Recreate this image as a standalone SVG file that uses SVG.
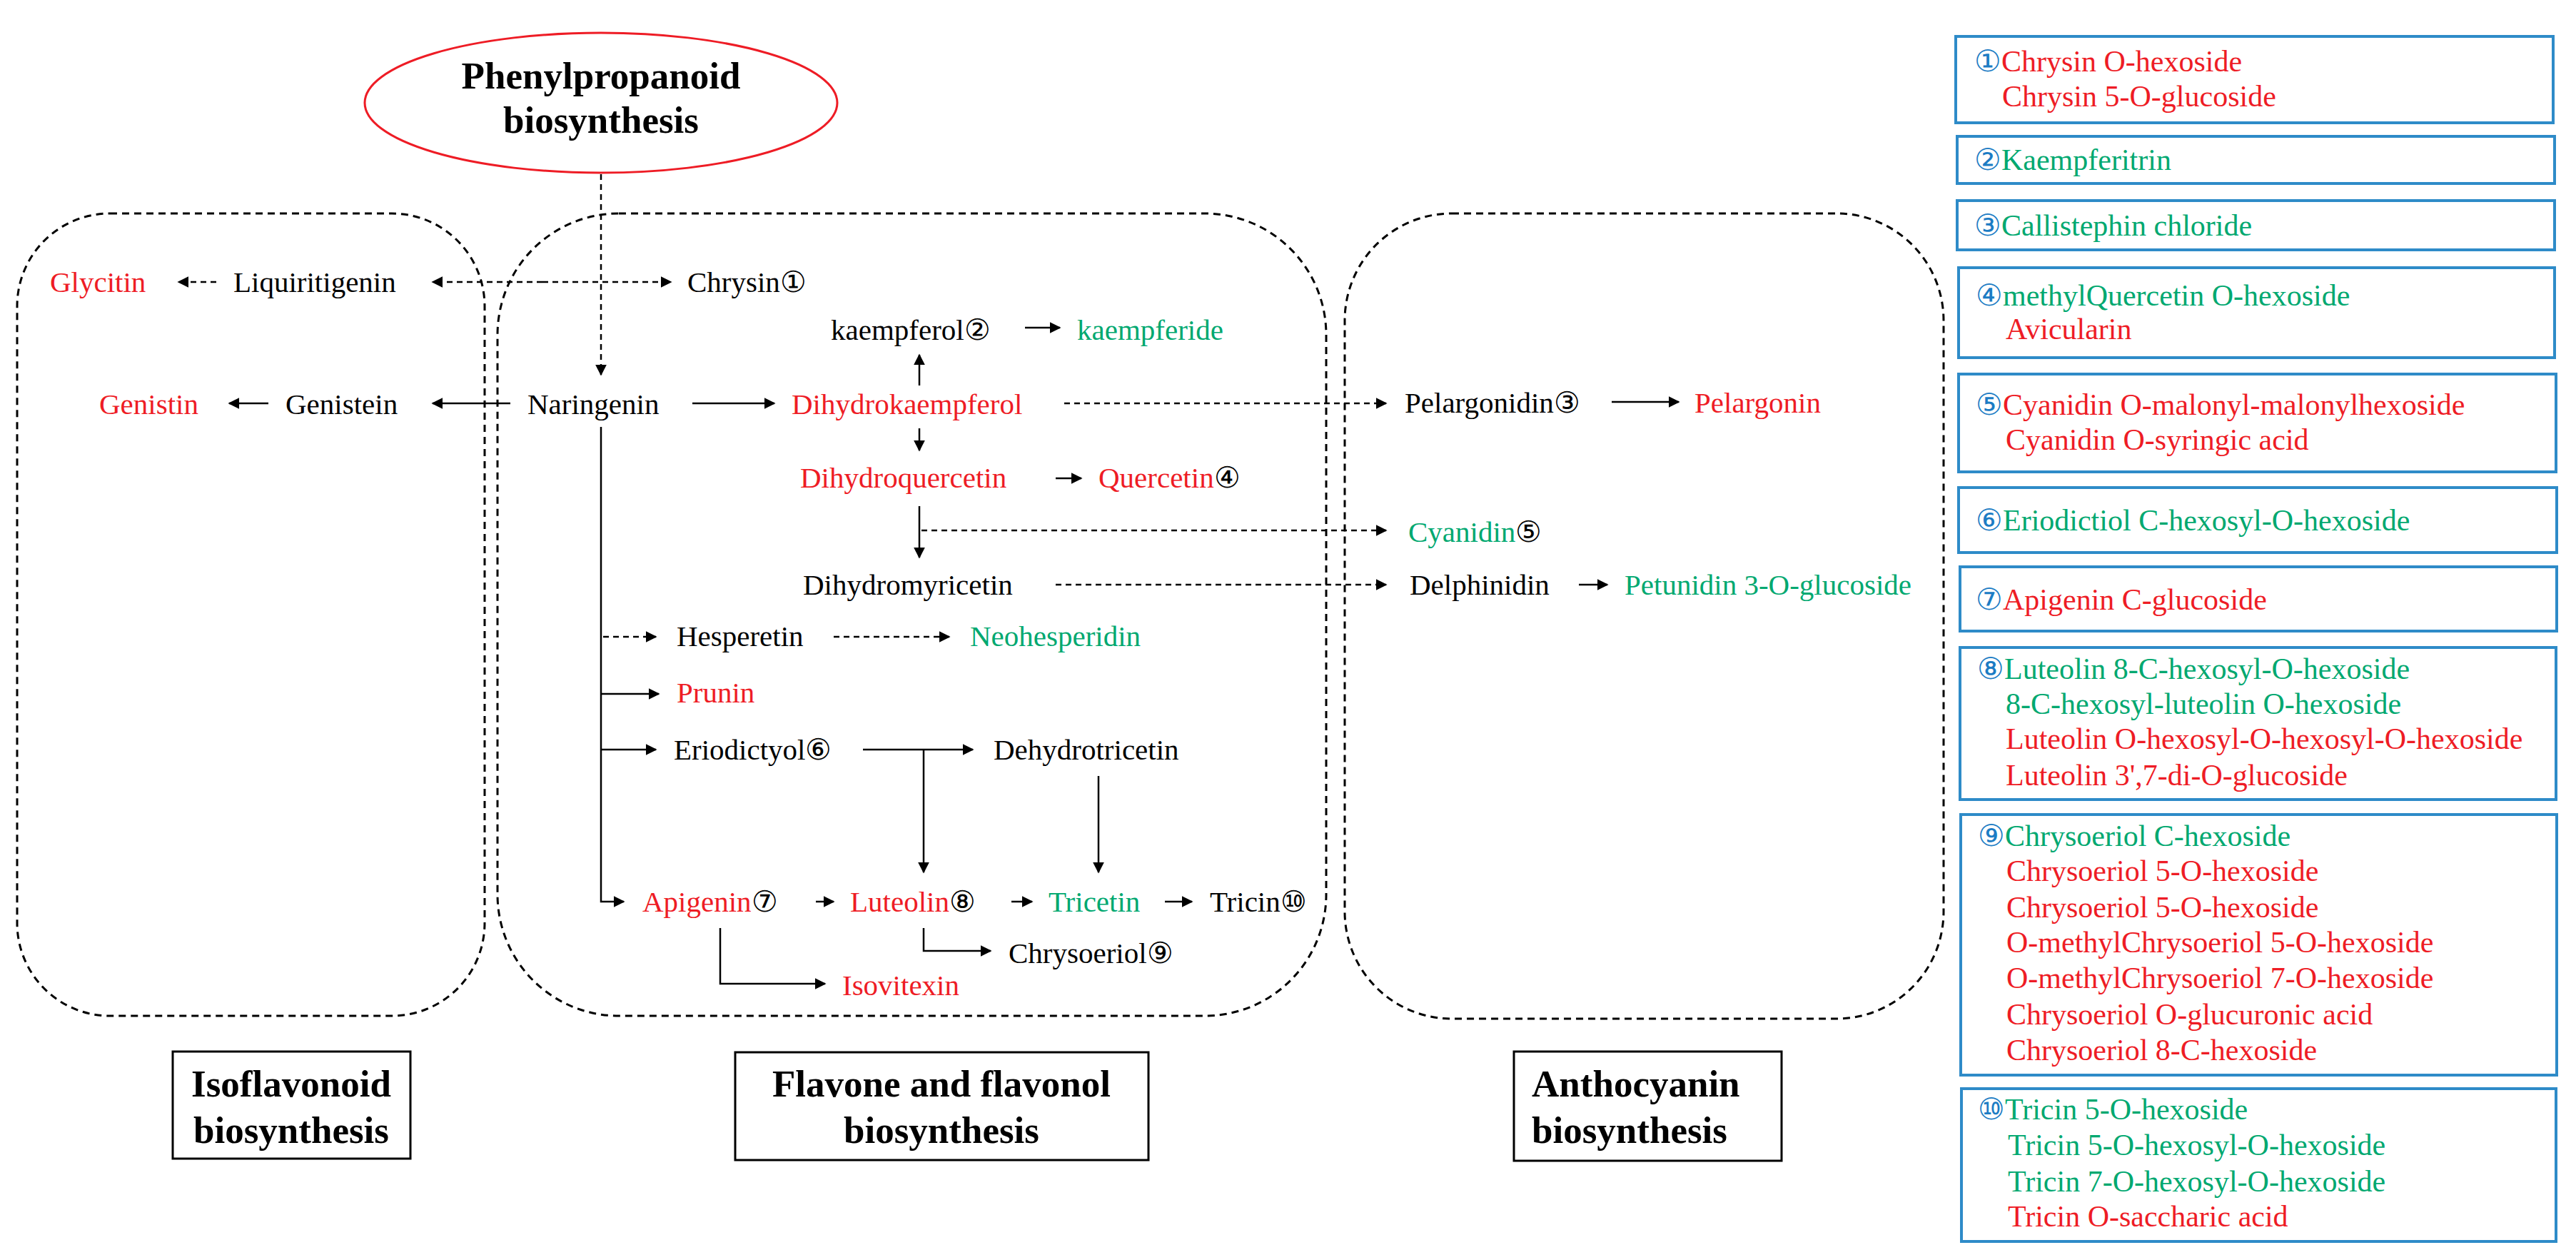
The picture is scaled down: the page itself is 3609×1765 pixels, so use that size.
<svg xmlns="http://www.w3.org/2000/svg" width="3609" height="1765" viewBox="0 0 3609 1765">
<defs>
<marker id="ah" viewBox="0 0 10 10" refX="9" refY="5" markerWidth="16" markerHeight="16" markerUnits="userSpaceOnUse" orient="auto"><path d="M0,0 L10,5 L0,10 z" fill="#000"/></marker>
<style>
text{font-family:"Liberation Serif","DejaVu Serif",serif;font-size:41px;fill:#000}
.r{fill:#ee1c25}.g{fill:#00a870}.b{fill:#1c7cc4}
.t{font-weight:bold;font-size:53px}
.lg{font-size:42px}
.ln{fill:none;stroke:#000;stroke-width:2.5}
.d{stroke-dasharray:8 6}
.reg{fill:none;stroke:#000;stroke-width:3;stroke-dasharray:10 7}
.lb{fill:#fff;stroke:#000;stroke-width:3}
.bx{fill:#fff;stroke:#2e8bc8;stroke-width:4}
</style>
</defs>
<rect width="3609" height="1765" fill="#fff"/>
<g id="regions">
<rect class="reg" x="24" y="299" width="655" height="1124" rx="130"/>
<rect class="reg" x="697" y="299" width="1161" height="1124" rx="170"/>
<rect class="reg" x="1884" y="299" width="839" height="1128" rx="150"/>
</g>
<g id="phenylpropanoid">
<ellipse cx="842" cy="144" rx="331" ry="98" fill="#fff" stroke="#ee1c25" stroke-width="3"/>
<text class="t" x="842" y="124" text-anchor="middle">Phenylpropanoid</text>
<text class="t" x="842" y="186" text-anchor="middle">biosynthesis</text>
</g>
<g id="labels">
<rect class="lb" x="242" y="1473" width="333" height="150"/>
<text class="t" x="408" y="1536" text-anchor="middle">Isoflavonoid</text>
<text class="t" x="408" y="1601" text-anchor="middle">biosynthesis</text>
<rect class="lb" x="1030" y="1474" width="579" height="151"/>
<text class="t" x="1319" y="1536" text-anchor="middle">Flavone and flavonol</text>
<text class="t" x="1319" y="1601" text-anchor="middle">biosynthesis</text>
<rect class="lb" x="2121" y="1473" width="375" height="153"/>
<text class="t" x="2146" y="1536">Anthocyanin</text>
<text class="t" x="2146" y="1601">biosynthesis</text>
</g>
<g id="connectors">
<path class="ln d" d="M842,244 V525" marker-end="url(#ah)"/>
<path class="ln d" d="M303,395 H250" marker-end="url(#ah)"/>
<path class="ln d" d="M760,395 H606" marker-end="url(#ah)"/>
<path class="ln d" d="M760,395 H940" marker-end="url(#ah)"/>
<path class="ln" d="M1436,459 H1485" marker-end="url(#ah)"/>
<path class="ln" d="M1288,540 V497" marker-end="url(#ah)"/>
<path class="ln" d="M376,565 H321" marker-end="url(#ah)"/>
<path class="ln" d="M715,565 H606" marker-end="url(#ah)"/>
<path class="ln" d="M970,565 H1085" marker-end="url(#ah)"/>
<path class="ln d" d="M1491,565 H1942" marker-end="url(#ah)"/>
<path class="ln" d="M2258,563 H2352" marker-end="url(#ah)"/>
<path class="ln" d="M1288,600 V631" marker-end="url(#ah)"/>
<path class="ln" d="M1479,670 H1515" marker-end="url(#ah)"/>
<path class="ln" d="M1288,709 V781" marker-end="url(#ah)"/>
<path class="ln d" d="M1291,743 H1942" marker-end="url(#ah)"/>
<path class="ln d" d="M1479,819 H1942" marker-end="url(#ah)"/>
<path class="ln" d="M2212,819 H2252" marker-end="url(#ah)"/>
<path class="ln" d="M842,598 V1263 H874" marker-end="url(#ah)"/>
<path class="ln d" d="M845,892 H919" marker-end="url(#ah)"/>
<path class="ln d" d="M1168,892 H1330" marker-end="url(#ah)"/>
<path class="ln" d="M842,972 H923" marker-end="url(#ah)"/>
<path class="ln" d="M842,1050 H919" marker-end="url(#ah)"/>
<path class="ln" d="M1209,1050 H1363" marker-end="url(#ah)"/>
<path class="ln" d="M1294,1050 V1222" marker-end="url(#ah)"/>
<path class="ln" d="M1539,1087 V1222" marker-end="url(#ah)"/>
<path class="ln" d="M1143,1263 H1168" marker-end="url(#ah)"/>
<path class="ln" d="M1417,1263 H1446" marker-end="url(#ah)"/>
<path class="ln" d="M1632,1263 H1670" marker-end="url(#ah)"/>
<path class="ln" d="M1294,1300 V1332 H1388" marker-end="url(#ah)"/>
<path class="ln" d="M1009,1300 V1378 H1156" marker-end="url(#ah)"/>
</g>
<g id="compounds">
<text class="r" x="70" y="409">Glycitin</text>
<text x="327" y="409">Liquiritigenin</text>
<text x="963" y="409">Chrysin①</text>
<text x="1164" y="476">kaempferol②</text>
<text class="g" x="1509" y="476">kaempferide</text>
<text class="r" x="139" y="580">Genistin</text>
<text x="400" y="580">Genistein</text>
<text x="739" y="580">Naringenin</text>
<text class="r" x="1109" y="580">Dihydrokaempferol</text>
<text class="r" x="1121" y="683">Dihydroquercetin</text>
<text x="1539" y="683"><tspan class="r">Quercetin</tspan>④</text>
<text x="1125" y="833">Dihydromyricetin</text>
<text x="948" y="905">Hesperetin</text>
<text class="g" x="1359" y="905">Neohesperidin</text>
<text class="r" x="948" y="984">Prunin</text>
<text x="944" y="1064">Eriodictyol⑥</text>
<text x="1392" y="1064">Dehydrotricetin</text>
<text x="900" y="1277"><tspan class="r">Apigenin</tspan>⑦</text>
<text x="1191" y="1277"><tspan class="r">Luteolin</tspan>⑧</text>
<text class="g" x="1469" y="1277">Tricetin</text>
<text x="1695" y="1277">Tricin⑩</text>
<text x="1413" y="1349">Chrysoeriol⑨</text>
<text class="r" x="1180" y="1394">Isovitexin</text>
<text x="1968" y="578">Pelargonidin③</text>
<text class="r" x="2374" y="578">Pelargonin</text>
<text x="1973" y="759"><tspan class="g">Cyanidin</tspan>⑤</text>
<text x="1975" y="833">Delphinidin</text>
<text class="g" x="2276" y="833">Petunidin 3-O-glucoside</text>
</g>
<g id="legend" class="lg">
<rect class="bx" x="2740" y="51" width="837" height="121"/>
<text class="lg" x="2766" y="100"><tspan class="b">①</tspan><tspan class="r">Chrysin O-hexoside</tspan></text>
<text class="lg r" x="2805" y="149">Chrysin 5-O-glucoside</text>
<rect class="bx" x="2742" y="191" width="837" height="66"/>
<text class="lg" x="2766" y="238"><tspan class="b">②</tspan><tspan class="g">Kaempferitrin</tspan></text>
<rect class="bx" x="2742" y="281" width="837" height="69"/>
<text class="lg" x="2766" y="330"><tspan class="b">③</tspan><tspan class="g">Callistephin chloride</tspan></text>
<rect class="bx" x="2744" y="375" width="835" height="126"/>
<text class="lg" x="2768" y="428"><tspan class="b">④</tspan><tspan class="g">methylQuercetin O-hexoside</tspan></text>
<text class="lg r" x="2810" y="475">Avicularin</text>
<rect class="bx" x="2744" y="524" width="837" height="137"/>
<text class="lg" x="2768" y="581"><tspan class="b">⑤</tspan><tspan class="r">Cyanidin O-malonyl-malonylhexoside</tspan></text>
<text class="lg r" x="2810" y="630">Cyanidin O-syringic acid</text>
<rect class="bx" x="2744" y="683" width="838" height="91"/>
<text class="lg" x="2768" y="743"><tspan class="b">⑥</tspan><tspan class="g">Eriodictiol C-hexosyl-O-hexoside</tspan></text>
<rect class="bx" x="2746" y="794" width="836" height="90"/>
<text class="lg" x="2768" y="854"><tspan class="b">⑦</tspan><tspan class="r">Apigenin C-glucoside</tspan></text>
<rect class="bx" x="2746" y="907" width="835" height="213"/>
<text class="lg" x="2770" y="951"><tspan class="b">⑧</tspan><tspan class="g">Luteolin 8-C-hexosyl-O-hexoside</tspan></text>
<text class="lg g" x="2810" y="1000">8-C-hexosyl-luteolin O-hexoside</text>
<text class="lg r" x="2810" y="1049">Luteolin O-hexosyl-O-hexosyl-O-hexoside</text>
<text class="lg r" x="2810" y="1100">Luteolin 3',7-di-O-glucoside</text>
<rect class="bx" x="2747" y="1141" width="835" height="365"/>
<text class="lg" x="2771" y="1185"><tspan class="b">⑨</tspan><tspan class="g">Chrysoeriol C-hexoside</tspan></text>
<text class="lg r" x="2811" y="1234">Chrysoeriol 5-O-hexoside</text>
<text class="lg r" x="2811" y="1285">Chrysoeriol 5-O-hexoside</text>
<text class="lg r" x="2811" y="1334">O-methylChrysoeriol 5-O-hexoside</text>
<text class="lg r" x="2811" y="1384">O-methylChrysoeriol 7-O-hexoside</text>
<text class="lg r" x="2811" y="1435">Chrysoeriol O-glucuronic acid</text>
<text class="lg r" x="2811" y="1485">Chrysoeriol 8-C-hexoside</text>
<rect class="bx" x="2748" y="1525" width="833" height="214"/>
<text class="lg" x="2771" y="1568"><tspan class="b">⑩</tspan><tspan class="g">Tricin 5-O-hexoside</tspan></text>
<text class="lg g" x="2813" y="1618">Tricin 5-O-hexosyl-O-hexoside</text>
<text class="lg g" x="2813" y="1669">Tricin 7-O-hexosyl-O-hexoside</text>
<text class="lg r" x="2813" y="1718">Tricin O-saccharic acid</text>
</g>
</svg>
